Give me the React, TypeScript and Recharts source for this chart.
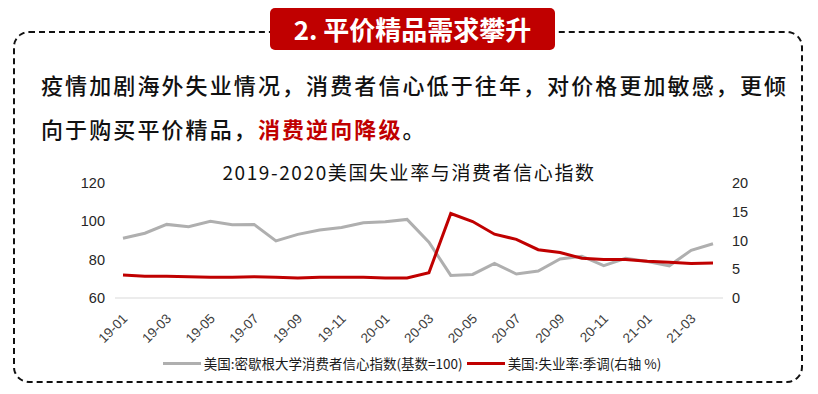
import { LineChart, Line, XAxis, YAxis } from 'recharts';

const months = [
  '19-01', '19-02', '19-03', '19-04', '19-05', '19-06', '19-07', '19-08', '19-09', '19-10', '19-11', '19-12',
  '20-01', '20-02', '20-03', '20-04', '20-05', '20-06', '20-07', '20-08', '20-09', '20-10', '20-11', '20-12',
  '21-01', '21-02', '21-03', '21-04',
];
const sentiment = [
  91.2, 93.8, 98.4, 97.2, 100.0, 98.2, 98.4, 89.8, 93.2, 95.5, 96.8, 99.3,
  99.8, 101.0, 89.1, 71.8, 72.3, 78.1, 72.5, 74.1, 80.4, 81.8, 76.9, 80.7,
  79.0, 76.8, 84.9, 88.3,
];
const unemployment = [
  4.0, 3.8, 3.8, 3.7, 3.6, 3.6, 3.7, 3.6, 3.5, 3.6, 3.6, 3.6,
  3.5, 3.5, 4.4, 14.7, 13.3, 11.1, 10.2, 8.4, 7.9, 6.9, 6.7, 6.7,
  6.4, 6.2, 6.0, 6.1,
];
const leftTicks = [60, 80, 100, 120];
const rightTicks = [0, 5, 10, 15, 20];

const seriesNames = ['美国:密歇根大学消费者信心指数(基数=100)', '美国:失业率:季调(右轴 %)'];
const seriesColors = ['#AFAFAF', '#C00000'];

const data = months.map((m, i) => ({ month: m, sentiment: sentiment[i], unemployment: unemployment[i] }));

const CJK = '"Noto Sans CJK SC", "Noto Sans", sans-serif';
const NUM = '"Liberation Sans", Arial, sans-serif';

function MonthTick(props: any) {
  const { x, y, payload } = props;
  return (
    <g transform={`translate(${x + 2},${y + 10})`}>
      <text transform="rotate(-45)" textAnchor="end" dy="0.35em" fontSize={13.5} fontFamily={NUM} fill="#404040">
        {payload.value}
      </text>
    </g>
  );
}

export default function App() {
  return (
    <div style={{ position: 'absolute', left: 0, top: 0, width: 818, height: 394, background: '#fff', overflow: 'hidden' }}>
      {/* dashed frame */}
      <div style={{ position: 'absolute', left: 13, top: 31, width: 790, height: 352, border: '2px dashed #111', borderRadius: 16, boxSizing: 'border-box' }} />
      {/* heading badge */}
      <div style={{
        position: 'absolute', left: 270, top: 8, width: 285, height: 42, background: '#C00000', borderRadius: 5,
        color: '#fff', fontFamily: CJK, fontWeight: 700, fontSize: 26, lineHeight: '42px', textAlign: 'center',
      }}>
        2. 平价精品需求攀升
      </div>
      <div style={{ position: 'absolute', left: 41, top: 68, fontFamily: CJK, fontSize: 22, fontWeight: 500, letterSpacing: 2.1, lineHeight: '32px', color: '#111', whiteSpace: 'nowrap' }}>
        疫情加剧海外失业情况，消费者信心低于往年，对价格更加敏感，更倾
      </div>
      <div style={{ position: 'absolute', left: 41, top: 112, fontFamily: CJK, fontSize: 22, fontWeight: 500, letterSpacing: 2.1, lineHeight: '32px', color: '#111', whiteSpace: 'nowrap' }}>
        向于购买平价精品，<span style={{ color: '#C00000', fontWeight: 700 }}>消费逆向降级</span>。
      </div>
      <div style={{ position: 'absolute', left: 0, width: 818, top: 158, textAlign: 'center', fontFamily: CJK, fontSize: 19, letterSpacing: 1.6, color: '#111' }}>
        2019-2020美国失业率与消费者信心指数
      </div>
      <div style={{ position: 'absolute', left: 0, top: 0 }}>
        <LineChart width={818} height={394} data={data} margin={{ top: 183, left: 60, right: 40, bottom: 46 }}>
          <XAxis
            dataKey="month"
            interval={1}
            tick={<MonthTick />}
            tickLine={false}
            axisLine={{ stroke: '#D9D9D9', strokeWidth: 1 }}
            padding={{ left: 8, right: 10 }}
            height={50}
          />
          <YAxis
            yAxisId="left"
            domain={[60, 120]}
            ticks={leftTicks}
            width={55}
            tickSize={0}
            tickMargin={10}
            axisLine={false}
            tickLine={false}
            tick={{ fontSize: 14.5, fontFamily: NUM, fill: '#262626' }}
          />
          <YAxis
            yAxisId="right"
            orientation="right"
            domain={[0, 20]}
            ticks={rightTicks}
            width={55}
            tickSize={0}
            tickMargin={9}
            axisLine={false}
            tickLine={false}
            tick={{ fontSize: 14.5, fontFamily: NUM, fill: '#262626', textAnchor: 'start' }}
          />
          <Line yAxisId="left" type="linear" dataKey="sentiment" name={seriesNames[0]} stroke={seriesColors[0]} strokeWidth={3} dot={false} isAnimationActive={false} />
          <Line yAxisId="right" type="linear" dataKey="unemployment" name={seriesNames[1]} stroke={seriesColors[1]} strokeWidth={3} dot={false} isAnimationActive={false} />
        </LineChart>
      </div>
      {/* legend */}
      <div style={{ position: 'absolute', left: 0, top: 353, width: 818, display: 'flex', justifyContent: 'center', alignItems: 'center', fontFamily: CJK, fontSize: 13.5, color: '#1a1a1a', paddingLeft: 6, boxSizing: 'border-box' }}>
        {seriesNames.map((n, i) => (
          <div key={n} style={{ display: 'flex', alignItems: 'center', marginRight: i === 0 ? 4 : 0 }}>
            <span style={{ display: 'inline-block', width: 38, height: 3, background: seriesColors[i], marginRight: 3 }} />
            <span>{n}</span>
          </div>
        ))}
      </div>
    </div>
  );
}
